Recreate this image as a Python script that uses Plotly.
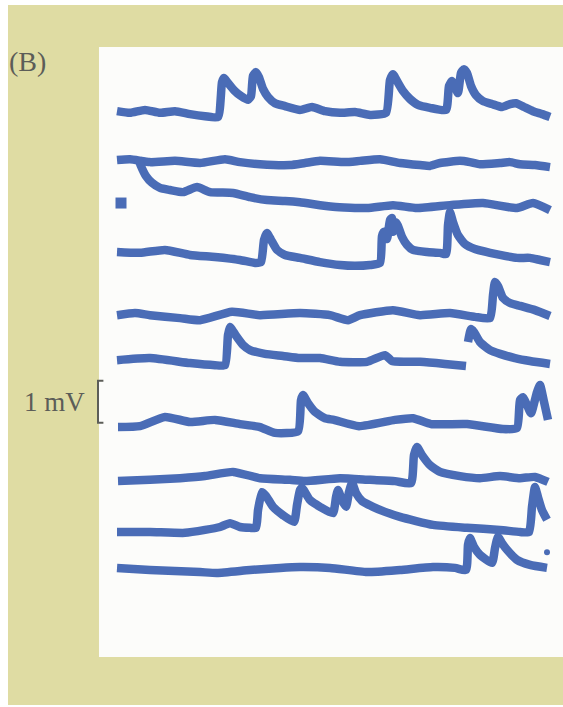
import plotly.graph_objects as go

# ---- recorded sweeps: time (ms) and membrane potential deflection (mV) ----
sweep1_t = [0, 65, 140, 215, 290, 365, 440, 505, 525, 535, 555, 585, 620, 655, 670, 680, 695, 710, 730, 755,
            790, 840, 915, 975, 1040, 1115, 1190, 1265, 1345, 1365, 1380, 1400, 1430, 1465, 1505, 1565, 1645,
            1660, 1675, 1690, 1705, 1720, 1735, 1750, 1770, 1795, 1830, 1875, 1925, 1965, 1995, 2035, 2080,
            2125, 2165]
sweep1_v = [0.02, -0.02, 0.05, -0.02, 0.02, -0.05, -0.10, -0.12, 0.71, 0.81, 0.69, 0.52, 0.38, 0.29, 0.38,
            0.86, 0.95, 0.83, 0.55, 0.36, 0.21, 0.14, 0.05, 0.12, 0.02, -0.02, 0.00, -0.07, -0.02, 0.76, 0.90,
            0.74, 0.50, 0.31, 0.17, 0.10, 0.05, 0.62, 0.74, 0.60, 0.45, 0.93, 1.02, 0.93, 0.62, 0.40, 0.26,
            0.19, 0.12, 0.19, 0.21, 0.12, 0.02, -0.05, -0.12]

sweep2_t = [0, 65, 165, 290, 415, 540, 615, 715, 865, 940, 1015, 1140, 1215, 1315, 1415, 1515, 1565, 1615,
            1715, 1765, 1815, 1915, 1965, 2015, 2090, 2165]
sweep2_v = [0.00, 0.02, -0.05, -0.02, -0.07, 0.02, -0.05, -0.10, -0.12, -0.07, -0.02, -0.05, -0.02, 0.02,
            -0.07, -0.12, -0.14, -0.07, -0.02, -0.05, -0.10, -0.07, -0.05, -0.10, -0.12, -0.17]

sweep3_t = [105, 120, 145, 175, 215, 265, 330, 400, 465, 580, 665, 750, 840, 915, 1080, 1250, 1380, 1500,
            1665, 1830, 2000, 2080, 2165]
sweep3_v = [0.76, 0.57, 0.33, 0.17, 0.05, 0.00, -0.05, 0.07, -0.05, -0.07, -0.17, -0.24, -0.26, -0.29,
            -0.40, -0.43, -0.36, -0.43, -0.36, -0.31, -0.43, -0.31, -0.48]
sweep3_start_t = [20]
sweep3_start_v = [-0.31]

sweep4_t = [0, 115, 240, 365, 490, 615, 690, 720, 735, 750, 770, 800, 840, 915, 1015, 1115, 1190, 1265,
            1315, 1325, 1335, 1350, 1365, 1375, 1380, 1395, 1405, 1425, 1450, 1480, 1550, 1615, 1645, 1655,
            1665, 1680, 1705, 1740, 1790, 1865, 1915, 2000, 2065, 2115, 2165]
sweep4_v = [0.00, -0.02, 0.05, -0.07, -0.12, -0.19, -0.26, -0.24, 0.29, 0.45, 0.29, 0.05, -0.07, -0.14,
            -0.24, -0.31, -0.33, -0.31, -0.26, 0.38, 0.48, 0.31, 0.76, 0.81, 0.48, 0.71, 0.62, 0.36, 0.17,
            0.05, 0.00, -0.02, -0.05, 0.64, 0.95, 0.71, 0.40, 0.19, 0.07, -0.02, -0.07, -0.14, -0.14, -0.19,
            -0.24]

sweep5_t = [0, 90, 165, 315, 415, 575, 715, 915, 1065, 1155, 1215, 1380, 1515, 1665, 1790, 1865, 1880, 1890,
            1905, 1930, 1965, 2015, 2090, 2165]
sweep5_v = [0.02, 0.07, 0.02, -0.05, -0.10, 0.10, 0.02, 0.07, 0.02, -0.10, 0.02, 0.14, 0.02, 0.07, -0.02,
            -0.05, 0.50, 0.81, 0.71, 0.43, 0.31, 0.24, 0.14, 0.00]

sweep6_t = [0, 165, 365, 490, 540, 555, 565, 595, 630, 665, 740, 830, 915, 1015, 1115, 1250, 1340, 1375,
            1515, 1640, 1745, None, 1755, 1770, 1785, 1815, 1865, 1915, 1990, 2065, 2165]
sweep6_v = [0.02, 0.07, -0.05, -0.10, -0.10, 0.62, 0.81, 0.60, 0.38, 0.26, 0.17, 0.12, 0.07, 0.07, -0.02,
            -0.02, 0.14, 0.00, -0.02, -0.07, -0.12, None, 0.45, 0.76, 0.69, 0.45, 0.26, 0.17, 0.07, 0.00,
            -0.07]

sweep7_t = [5, 115, 240, 365, 490, 615, 715, 790, 905, 920, 930, 955, 990, 1040, 1085, 1210, 1390, 1480,
            1570, 1750, 1930, 2000, 2015, 2030, 2050, 2070, 2100, 2115, 2135, 2155]
sweep7_v = [0.00, 0.02, 0.24, 0.12, 0.17, 0.07, 0.00, -0.14, -0.10, 0.64, 0.76, 0.57, 0.36, 0.21, 0.17,
            0.02, 0.17, 0.21, 0.07, 0.07, -0.05, -0.02, 0.64, 0.71, 0.52, 0.33, 0.83, 1.00, 0.60, 0.17]

sweep8_t = [5, 165, 315, 440, 580, 715, 865, 940, 1115, 1265, 1390, 1470, 1485, 1500, 1525, 1565, 1615,
            1715, 1815, 1915, 2015, 2090, 2155]
sweep8_v = [-0.05, -0.02, 0.02, 0.07, 0.17, 0.02, -0.02, -0.05, 0.02, -0.02, -0.05, -0.10, 0.57, 0.76,
            0.57, 0.33, 0.17, 0.07, 0.02, 0.07, 0.02, 0.05, -0.07]

sweep9_t = [0, 165, 340, 440, 515, 565, 615, 665, 695, 705, 725, 745, 780, 830, 885, 900, 915, 925, 965,
            1015, 1080, 1095, 1105, 1125, 1145, 1160, 1175, 1195, 1225, 1280, 1340, 1415, 1580, 1750, 1915,
            2015, 2060, 2075, 2090, 2105, 2125, 2150]
sweep9_v = [0.00, 0.00, -0.02, 0.05, 0.12, 0.21, 0.12, 0.10, 0.10, 0.52, 0.95, 0.86, 0.60, 0.40, 0.24,
            0.64, 1.00, 1.05, 0.76, 0.60, 0.45, 0.83, 1.00, 0.76, 0.60, 0.95, 1.17, 0.93, 0.74, 0.60, 0.48,
            0.36, 0.17, 0.10, 0.05, 0.00, 0.00, 0.60, 1.07, 0.83, 0.52, 0.29]
sweep9_dot_t = [2150]
sweep9_dot_v = [-0.48]

sweep10_t = [0, 165, 415, 500, 665, 815, 915, 1065, 1250, 1415, 1580, 1690, 1745, 1755, 1765, 1785, 1815,
             1875, 1890, 1905, 1925, 1950, 2000, 2065, 2150]
sweep10_v = [0.05, 0.00, -0.05, -0.07, 0.00, 0.05, 0.07, 0.05, -0.05, 0.00, 0.07, 0.05, 0.00, 0.60, 0.76,
             0.55, 0.36, 0.17, 0.52, 0.79, 0.64, 0.48, 0.24, 0.12, 0.05]

# vertical offset of each sweep in the stacked display (mV)
sweep_offsets = [-2.667, -3.810, -4.524, -6.000, -7.524, -8.595, -10.167, -11.405, -12.667, -13.571]

scale_bar_mv = 1.0
scale_bar_label = "1 mV"
panel_label = "(B)"

# ---- styling ----
TRACE_COLOR = "#4a6cb6"
TEXT_COLOR = "#5c5d58"
BORDER_COLOR = "#dfdca3"
PANEL_COLOR = "#fcfcfa"
LINE_W = 8.5
FONT = "Liberation Serif"

sweeps = [
    (sweep1_t, sweep1_v), (sweep2_t, sweep2_v), (sweep3_t, sweep3_v), (sweep4_t, sweep4_v),
    (sweep5_t, sweep5_v), (sweep6_t, sweep6_v), (sweep7_t, sweep7_v), (sweep8_t, sweep8_v),
    (sweep9_t, sweep9_v), (sweep10_t, sweep10_v),
]

fig = go.Figure()

for (t, v), off in zip(sweeps, sweep_offsets):
    y = [None if val is None else val + off for val in v]
    fig.add_trace(go.Scatter(
        x=t, y=y, mode="lines", connectgaps=False,
        line=dict(color=TRACE_COLOR, width=LINE_W, shape="spline", smoothing=0.5),
        hoverinfo="skip", showlegend=False,
    ))

# short fragment at the start of sweep 3 and the stray sample on sweep 9
fig.add_trace(go.Scatter(
    x=sweep3_start_t, y=[v + sweep_offsets[2] for v in sweep3_start_v], mode="markers",
    marker=dict(symbol="square", size=11, color=TRACE_COLOR), hoverinfo="skip", showlegend=False,
))
fig.add_trace(go.Scatter(
    x=sweep9_dot_t, y=[v + sweep_offsets[8] for v in sweep9_dot_v], mode="markers",
    marker=dict(symbol="circle", size=6, color=TRACE_COLOR), hoverinfo="skip", showlegend=False,
))

# 1 mV scale bar (bracket) beside sweep 7
bar_top = sweep_offsets[6] + 1.1
bar_x0, bar_x1 = -95, -68
fig.add_trace(go.Scatter(
    x=[bar_x1, bar_x0, bar_x0, bar_x1],
    y=[bar_top, bar_top, bar_top - scale_bar_mv, bar_top - scale_bar_mv],
    mode="lines", line=dict(color=TEXT_COLOR, width=2), hoverinfo="skip", showlegend=False,
))
fig.add_annotation(
    x=-148, y=bar_top - scale_bar_mv / 2, xref="x", yref="y", text=scale_bar_label,
    showarrow=False, xanchor="right", yanchor="middle",
    font=dict(family=FONT, size=27, color=TEXT_COLOR),
)
fig.add_annotation(
    x=0.012, y=0.913, xref="paper", yref="paper", text=panel_label,
    showarrow=False, xanchor="left", yanchor="middle",
    font=dict(family=FONT, size=28, color=TEXT_COLOR),
)

# page background: tinted border with a white recording panel
fig.add_shape(type="rect", xref="paper", yref="paper", x0=0.0142, x1=1.0, y0=0.003, y1=0.993,
              line=dict(width=0), fillcolor=BORDER_COLOR, layer="below")
fig.add_shape(type="rect", xref="paper", yref="paper", x0=0.1758, x1=1.0, y0=0.0707, y1=0.9335,
              line=dict(width=0), fillcolor=PANEL_COLOR, layer="below")

fig.update_xaxes(range=[-585, 2230], visible=False, fixedrange=True)
fig.update_yaxes(range=[-16.833, 0], visible=False, fixedrange=True)
fig.update_layout(
    width=563, height=707,
    margin=dict(l=0, r=0, t=0, b=0),
    paper_bgcolor="white", plot_bgcolor="rgba(0,0,0,0)",
)

fig.write_html("out.html")
